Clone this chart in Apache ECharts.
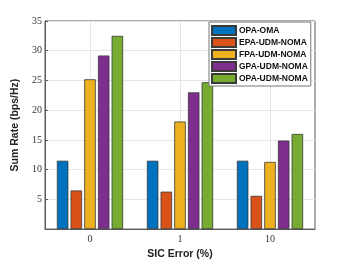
<!DOCTYPE html>
<html><head><meta charset="utf-8">
<script src="https://cdn.jsdelivr.net/npm/echarts@6/dist/echarts.min.js"></script>
<style>html,body{margin:0;padding:0;background:#fff}#c{width:349px;height:265px}</style>
</head><body><div id="c"></div>
<script>
const categories = ['0', '1', '10'];
const seriesNames = ['OPA-OMA', 'EPA-UDM-NOMA', 'FPA-UDM-NOMA', 'GPA-UDM-NOMA', 'OPA-UDM-NOMA'];
const opaOma = [11.5, 11.5, 11.5];
const epaUdmNoma = [6.5, 6.3, 5.6];
const fpaUdmNoma = [25.2, 18.1, 11.3];
const gpaUdmNoma = [29.2, 23.0, 14.9];
const opaUdmNoma = [32.5, 24.7, 16.0];
const yTicks = [0, 5, 10, 15, 20, 25, 30, 35];
const colors = ['#0072BD', '#D95319', '#EDB120', '#7E2F8E', '#77AC30'];
const allData = [opaOma, epaUdmNoma, fpaUdmNoma, gpaUdmNoma, opaUdmNoma];

const chart = echarts.init(document.getElementById('c'), null, {renderer: 'canvas'});
const axisColor = '#5a5a5a';
const tickFont = 'Liberation Serif';
chart.setOption({
  animation: false,
  color: colors,
  grid: {left: 45, right: 34, top: 21, bottom: 30, show: true, borderColor: axisColor, borderWidth: 1, backgroundColor: 'transparent'},
  legend: {
    orient: 'vertical', left: 209, top: 22, width: 103,
    data: seriesNames,
    backgroundColor: '#fff', borderColor: '#777', borderWidth: 1,
    padding: [3, 3, 2, 2], itemGap: 1, itemWidth: 24, itemHeight: 9,
    icon: 'rect',
    textStyle: {fontFamily: 'Liberation Sans', fontWeight: 'bold', fontSize: 8.5, lineHeight: 9, color: '#111', padding: [0, 0, 0, -2]}
  },
  xAxis: [{
    type: 'category', data: categories,
    name: 'SIC Error (%)', nameLocation: 'middle', nameGap: 16,
    nameTextStyle: {fontFamily: 'Liberation Sans', fontWeight: 'bold', fontSize: 10.5, color: '#222'},
    axisLine: {lineStyle: {color: axisColor}},
    axisTick: {show: true, alignWithLabel: true, inside: true, length: 3, lineStyle: {color: axisColor}},
    axisLabel: {fontFamily: tickFont, fontSize: 10, color: '#333', margin: 5},
    splitLine: {show: false}
  }, {
    type: 'category', data: ['a','b','c','d','e','f','g'], boundaryGap: false,
    position: 'bottom', show: true,
    axisLine: {show: false}, axisTick: {show: false}, axisLabel: {show: false},
    splitLine: {show: true, interval: function (i) { return i % 2 === 1; }, lineStyle: {color: '#e6e6e6', width: 1}}
  }],
  yAxis: {
    type: 'value', min: 0, max: 35, interval: 5,
    name: 'Sum Rate (bps/Hz)', nameLocation: 'middle', nameGap: 17,
    nameTextStyle: {fontFamily: 'Liberation Sans', fontWeight: 'bold', fontSize: 10.5, color: '#222'},
    axisLine: {show: true, lineStyle: {color: axisColor}},
    axisTick: {show: true, inside: true, length: 3, lineStyle: {color: axisColor}},
    axisLabel: {fontFamily: tickFont, fontSize: 10, color: '#333', margin: 3,
      formatter: function (v) { return (v === yTicks[0]) ? '' : String(v); }},
    splitLine: {show: true, lineStyle: {color: '#e6e6e6', width: 1}}
  },
  series: seriesNames.map(function (n, i) {
    return {
      name: n, type: 'bar', data: allData[i], xAxisIndex: 0,
      barWidth: 11.5, barGap: '19%',
      itemStyle: {color: colors[i], borderColor: '#3a3a3a', borderWidth: 0.8}
    };
  })
});
</script></body></html>
